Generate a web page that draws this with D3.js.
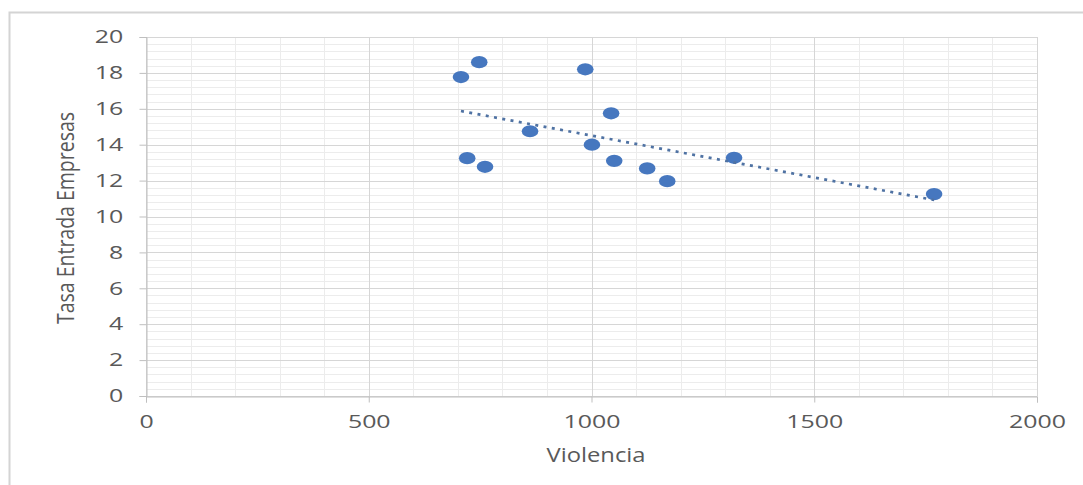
<!DOCTYPE html>
<html><head><meta charset="utf-8">
<script src="https://cdn.jsdelivr.net/npm/d3@7"></script>
<style>
html,body{margin:0;padding:0;background:#fff;}
svg{display:block;}
text{font-family:"Open Sans","DejaVu Sans",sans-serif;fill:#595959;}
</style></head><body>
<svg id="c" width="1083" height="485"></svg>
<script>
const violencia = [707, 748, 986, 1044, 862, 1001, 721, 761, 1051, 1125, 1170, 1320, 1769];
const tasaEntrada = [17.77, 18.6, 18.2, 15.75, 14.75, 14.0, 13.25, 12.77, 13.1, 12.68, 11.97, 13.27, 11.25];
const xTicks = [0, 500, 1000, 1500, 2000];
const yTicks = [0, 2, 4, 6, 8, 10, 12, 14, 16, 18, 20];
const xTitle = "Violencia";
const yTitle = "Tasa Entrada Empresas";

const svg = d3.select("#c");
const L = 146, R = 1037, T = 37, B = 396;
const SX = 1.4; // horizontal stretch of text seen in the reference
const x = d3.scaleLinear().domain([0, 2000]).range([L, R]);
const y = d3.scaleLinear().domain([0, 20]).range([B, T]);

// chart border (top + left)
svg.append("path").attr("d", "M9.5,485 V12.5 H1083").attr("fill", "none")
  .attr("stroke", "#d4d4d4").attr("stroke-width", 2);

// minor gridlines
const gMinor = svg.append("g").attr("stroke", "#ececec").attr("stroke-width", 1);
gMinor.selectAll("line.vx").data(d3.range(0, 2001, 100)).join("line")
  .attr("x1", d => Math.round(x(d)) + 0.5).attr("x2", d => Math.round(x(d)) + 0.5)
  .attr("y1", T).attr("y2", B);
gMinor.selectAll("line.hy").data(d3.range(0, 20.01, 0.4)).join("line")
  .attr("y1", d => Math.round(y(d)) + 0.5).attr("y2", d => Math.round(y(d)) + 0.5)
  .attr("x1", L).attr("x2", R);

// major gridlines
const gMajor = svg.append("g").attr("stroke", "#d6d6d6").attr("stroke-width", 1);
gMajor.selectAll("line.v").data(xTicks).join("line")
  .attr("x1", d => Math.round(x(d)) + 0.5).attr("x2", d => Math.round(x(d)) + 0.5)
  .attr("y1", T).attr("y2", B);
gMajor.selectAll("line.h").data(yTicks).join("line")
  .attr("y1", d => Math.round(y(d)) + 0.5).attr("y2", d => Math.round(y(d)) + 0.5)
  .attr("x1", L).attr("x2", R);

// axes
const xAxis = svg.append("g").attr("transform", `translate(0,${B + 0.5})`)
  .call(d3.axisBottom(x).tickValues(xTicks).tickFormat(d3.format("d")).tickSize(6).tickPadding(13));
const yAxis = svg.append("g").attr("transform", `translate(${L + 0.5},0)`)
  .call(d3.axisLeft(y).tickValues(yTicks).tickFormat(d3.format("d")).tickSize(7).tickPadding(9.6));
[xAxis, yAxis].forEach(g => {
  g.select(".domain").attr("stroke", "#bfbfbf");
  g.selectAll(".tick line").attr("stroke", "#bfbfbf");
  g.selectAll(".tick text").attr("fill", "#595959")
    .style("font-family", "'Open Sans',sans-serif").style("font-size", "17.8px")
    .attr("transform", `scale(${SX},1)`);
});

// axis titles
svg.append("text").attr("transform", "translate(596,462) scale(1.22,1)").attr("text-anchor", "middle")
  .style("font-size", "19.5px").text(xTitle);
svg.append("text").attr("transform", "translate(74,218) scale(1.2,1) rotate(-90)").attr("text-anchor", "middle")
  .style("font-size", "19.5px").text(yTitle);

// points
const pts = violencia.map((v, i) => ({ v, t: tasaEntrada[i] }));
svg.append("g").selectAll("ellipse").data(pts).join("ellipse")
  .attr("cx", d => x(d.v)).attr("cy", d => y(d.t))
  .attr("rx", 8.3).attr("ry", 6.1).attr("fill", "#4677bf");

// linear trendline (least squares)
const mx = d3.mean(violencia), my = d3.mean(tasaEntrada);
let sxy = 0, sxx = 0;
pts.forEach(d => { sxy += (d.v - mx) * (d.t - my); sxx += (d.v - mx) ** 2; });
const slope = sxy / sxx, icpt = my - slope * mx;
const [x0, x1] = d3.extent(violencia);
svg.append("line")
  .attr("x1", x(x0)).attr("y1", y(icpt + slope * x0))
  .attr("x2", x(x1)).attr("y2", y(icpt + slope * x1))
  .attr("stroke", "#4f72a3").attr("stroke-width", 2.7)
  .attr("stroke-dasharray", "3,5.4");
</script>
</body></html>
